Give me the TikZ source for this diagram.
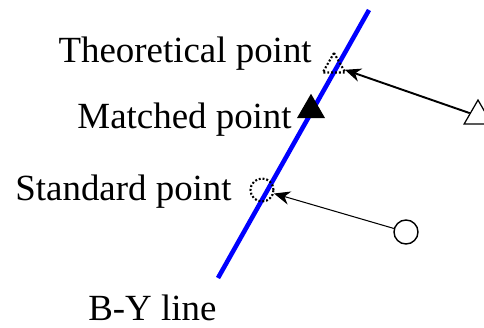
\documentclass[tikz,border=0pt]{standalone}
\usepackage{fontspec}
\setmainfont{Liberation Serif}
\usetikzlibrary{shapes.geometric,arrows.meta}
\begin{document}
\begin{tikzpicture}[
    x=0.02cm, y=-0.02cm,
    lbl/.style={font=\fontsize{21}{25}\selectfont,inner sep=0pt},
    tri/.style={regular polygon,regular polygon sides=3,draw,line width=0.7pt,inner sep=0pt},
    dots/.style={line width=1.2pt,dash pattern=on 1.1pt off 1.1pt},
    >={Stealth[length=0.32cm,width=0.27cm]}
]
\useasboundingbox (0,0) rectangle (484,328);
\draw[blue,line width=2.6pt] (218,278) -- (369,10);

\node[tri,dots,minimum size=0.52cm] (theo) at (334,66) {};
\node[tri,fill=black,minimum size=0.6cm] (match) at (311,110) {};
\node[circle,draw,dots,minimum size=0.46cm,inner sep=0pt] (std) at (262,190) {};
\node[tri,minimum size=0.64cm] (meas) at (478,116) {};
\node[circle,draw,line width=0.8pt,minimum size=0.48cm,inner sep=0pt] (samp) at (406,232) {};

\node[lbl,anchor=base east] (theolbl) at (312,62) {Theoretical point};
\node[lbl,anchor=base east] (matchlbl) at (292,128) {Matched point};
\node[lbl,anchor=base east] (stdlbl) at (232,200) {Standard point};
\node[lbl,anchor=base west] (bylbl) at (88,320) {B-Y line};

\draw[->,line width=1.1pt] (meas) -- (theo);
\draw[->,line width=0.6pt] (samp) -- (std);
\end{tikzpicture}
\end{document}
